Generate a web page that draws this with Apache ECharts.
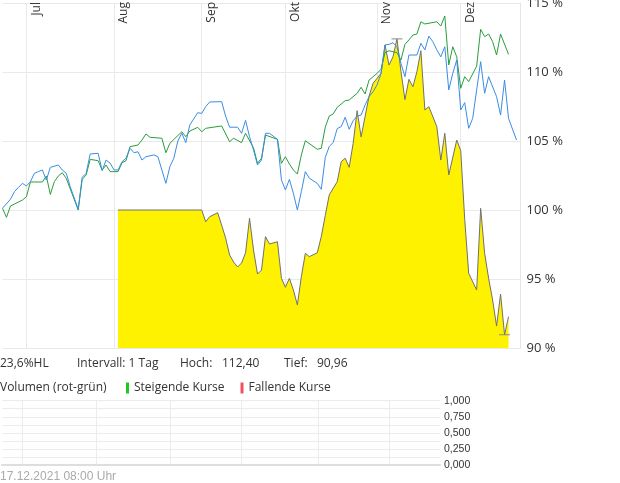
<!DOCTYPE html>
<html><head><meta charset="utf-8">
<script src="https://cdn.jsdelivr.net/npm/echarts@6/dist/echarts.min.js"></script>
<style>html,body{margin:0;padding:0;background:#fff}#c{width:620px;height:483px}</style>
</head><body><div id="c"></div>
<script>
// trading-day positions (index of each day on the x axis)
const dayCount = 131;
const monthIdx = [6, 28, 50, 71, 94, 115];
const monthNames = ['Jul', 'Aug', 'Sep', 'Okt', 'Nov', 'Dez'];
const priceTicks = [90, 95, 100, 105, 110, 115];
const volumeTicks = [0, 0.25, 0.5, 0.75, 1];

// [day index, percent]
const blueSeries = [[0,100.12],[2,100.78],[3,101.33],[4,101.64],[5,101.93],[6,101.74],[7,102.05],[8,102.66],[9,102.78],[10,102.9],[11,102.17],[12,103.09],[14,103.26],[15,102.9],[16,102.66],[17,101.69],[19,100.05],[20,102.37],[21,102.66],[22,104.06],[24,104.11],[25,102.85],[26,103.62],[27,103.4],[28,102.9],[29,102.9],[30,103.5],[31,103.75],[32,104.47],[33,104.15],[34,104.22],[35,103.62],[36,103.86],[38,103.99],[39,103.86],[41,101.93],[42,103.14],[43,103.75],[44,105.0],[45,105.56],[46,104.88],[47,106.16],[49,107.05],[50,107.0],[51,107.49],[52,107.83],[55,107.85],[56,106.8],[57,106.0],[59,106.0],[60,105.56],[61,106.5],[62,105.31],[63,104.35],[64,103.26],[65,103.62],[66,105.56],[67,105.56],[69,105.12],[70,102.17],[71,101.45],[72,102.22],[73,101.21],[74,100.0],[75,101.33],[76,102.78],[77,102.3],[79,101.93],[80,101.5],[81,103.8],[82,104.6],[83,104.9],[84,105.9],[85,106.04],[86,106.72],[87,105.85],[88,106.47],[89,106.81],[90,106.88],[91,107.61],[92,108.21],[93,108.57],[94,109.06],[95,109.9],[96,111.96],[97,112.0],[98,112.12],[99,111.83],[100,110.63],[101,109.66],[102,111.23],[104,111.23],[105,112.08],[106,111.6],[107,112.6],[108,112.2],[109,111.6],[110,111.1],[111,111.83],[112,108.7],[113,109.9],[114,110.87],[115,107.25],[116,107.78],[117,105.92],[118,106.64],[119,108.7],[120,110.75],[121,108.46],[122,109.66],[124,108.21],[125,106.88],[126,109.42],[127,106.64],[129,105.07]];

const greenSeries = [[0,100.12],[1,99.47],[2,100.29],[3,100.43],[5,100.72],[6,100.96],[7,102.03],[10,102.03],[11,102.46],[12,101.13],[13,102.05],[14,102.46],[15,102.7],[16,102.3],[19,100.0],[20,102.22],[21,102.54],[22,103.67],[24,103.57],[25,102.9],[26,103.26],[27,102.78],[29,102.78],[30,103.43],[31,103.57],[32,104.59],[34,104.71],[35,105.07],[36,105.51],[37,105.27],[40,105.2],[41,104.15],[42,104.83],[45,105.67],[46,105.31],[47,105.72],[49,105.99],[50,105.67],[51,105.92],[55,106.09],[57,104.95],[58,105.2],[60,104.88],[61,105.56],[63,104.5],[64,103.38],[65,103.75],[66,105.43],[69,105.12],[70,103.38],[71,103.86],[72,103.33],[73,102.9],[74,102.61],[75,103.99],[76,105.02],[79,104.4],[80,104.47],[81,106.0],[82,106.81],[83,106.96],[84,107.44],[86,107.92],[87,107.97],[89,108.46],[90,108.89],[91,108.41],[92,109.42],[93,109.66],[94,109.9],[95,110.2],[96,111.4],[97,111.54],[98,111.47],[99,111.4],[100,110.87],[101,112.0],[102,112.32],[103,112.68],[104,112.75],[105,113.64],[106,113.48],[109,113.64],[110,113.33],[111,114.06],[112,110.51],[113,111.83],[114,111.1],[115,108.82],[116,109.66],[117,109.3],[119,110.43],[120,113.09],[121,112.56],[122,112.75],[123,112.2],[124,111.23],[125,112.75],[127,111.28]];

const yellowSeries = [[29,100.0],[50,100.0],[51,99.15],[52,99.51],[54,99.8],[55,98.9],[56,97.96],[57,96.74],[58,96.23],[59,95.87],[60,96.16],[61,96.9],[62,99.4],[63,97.1],[64,95.36],[65,95.65],[66,98.07],[67,97.54],[69,97.7],[70,95.05],[71,94.4],[72,95.05],[73,94.2],[74,93.12],[75,95.17],[76,96.86],[77,96.62],[79,96.9],[80,98.07],[81,99.6],[82,101.09],[84,102.05],[85,103.5],[86,103.75],[87,103.09],[88,104.83],[89,107.2],[90,105.3],[92,108.26],[93,109.18],[95,109.9],[96,111.96],[97,110.5],[98,111.1],[99,112.40],[100,110.04],[101,108.0],[102,109.47],[103,108.93],[104,110.02],[105,111.54],[106,107.25],[107,107.49],[109,106.04],[110,103.62],[111,105.56],[112,102.54],[114,105.07],[115,104.3],[116,99.33],[117,95.41],[119,94.2],[120,100.12],[121,96.86],[122,95.05],[123,93.48],[124,91.59],[125,93.91],[126,90.96],[127,92.27]];

const risingVolume = [];
const fallingVolume = [];

const cats = Array.from({length: dayCount}, (_, i) => String(i));
const isMonth = (i) => monthIdx.indexOf(i) >= 0;
const yVals = yellowSeries.map(p => p[1]);
const fmt = v => v.toFixed(2).replace('.', ',');
const hoch = fmt(Math.max(...yVals));
const tief = fmt(Math.min(...yVals));

const OS = 'Open Sans';
const txt = (x, y, s, extra) => ({type: 'text', x, y, style: Object.assign({text: s, fill: '#333', font: '12px "Open Sans"', textVerticalAlign: 'middle'}, extra || {})});

const chart = echarts.init(document.getElementById('c'), null, {renderer: 'canvas'});
chart.setOption({
  animation: false,
  backgroundColor: '#fff',
  grid: [
    {left: 2.5, top: 3, width: 518, height: 345, outerBoundsMode: 'none', containLabel: false},
    {left: 2, top: 400.7, width: 438, height: 64.3, outerBoundsMode: 'none', containLabel: false}
  ],
  legend: {
    data: ['Steigende Kurse', 'Fallende Kurse'],
    left: 126, top: 382, padding: 0,
    icon: 'rect', itemWidth: 3, itemHeight: 11, itemGap: 16,
    textStyle: {fontFamily: OS, fontSize: 12, color: '#333'},
    selectedMode: false
  },
  xAxis: [
    {
      type: 'category', gridIndex: 0, data: cats, boundaryGap: false, position: 'top',
      axisLine: {show: false}, axisTick: {show: false},
      axisLabel: {
        interval: (i) => isMonth(i), inside: true, rotate: -90, margin: -1,
        align: 'right', verticalAlign: 'top', padding: [4, 0, 0, 0],
        formatter: (v) => monthNames[monthIdx.indexOf(Number(v))] || '',
        fontFamily: OS, fontSize: 12, color: '#333'
      },
      splitLine: {show: true, interval: (i) => isMonth(i), lineStyle: {color: '#e9e9e9', width: 1}}
    },
    {
      type: 'category', gridIndex: 1, data: cats, boundaryGap: false,
      axisLine: {show: true, lineStyle: {color: '#dedede', width: 2}}, axisTick: {show: false},
      axisLabel: {show: false},
      splitLine: {show: true, interval: (i) => isMonth(i), lineStyle: {color: '#ececec', width: 1}}
    }
  ],
  yAxis: [
    {
      type: 'value', gridIndex: 0, position: 'right', min: priceTicks[0], max: priceTicks[priceTicks.length - 1], interval: 5,
      axisLine: {show: true, lineStyle: {color: '#e6e6e6'}}, axisTick: {show: false},
      axisLabel: {formatter: v => priceTicks.indexOf(v) >= 0 ? v + ' %' : '', margin: 6, fontFamily: OS, fontSize: 13, color: '#333'},
      splitLine: {lineStyle: {color: '#e9e9e9'}}
    },
    {
      type: 'value', gridIndex: 1, position: 'right', min: 0, max: 1, interval: 0.125,
      axisLine: {show: false}, axisTick: {show: false},
      axisLabel: {
        formatter: v => volumeTicks.some(t => Math.abs(t - v) < 1e-6) ? v.toFixed(3).replace('.', ',') : '',
        margin: 4, fontFamily: 'Liberation Sans', fontSize: 10.5, color: '#333'
      },
      splitLine: {lineStyle: {color: '#ececec'}}
    }
  ],
  series: [
    {
      name: 'Kurs', type: 'line', xAxisIndex: 0, yAxisIndex: 0, data: yellowSeries,
      symbol: 'none', lineStyle: {color: '#707070', width: 1},
      areaStyle: {color: '#fff200', opacity: 1}, z: 1,
      markPoint: {
        symbol: 'rect', symbolSize: [11, 1], itemStyle: {color: '#8a8a8a'}, label: {show: false},
        data: [{type: 'max'}, {type: 'min'}]
      }
    },
    {name: 'Vergleich 1', type: 'line', xAxisIndex: 0, yAxisIndex: 0, data: greenSeries, symbol: 'none', lineStyle: {color: '#2a9d3c', width: 1}, z: 3},
    {name: 'Vergleich 2', type: 'line', xAxisIndex: 0, yAxisIndex: 0, data: blueSeries, symbol: 'none', lineStyle: {color: '#3a8de2', width: 1}, z: 4},
    {name: 'Steigende Kurse', type: 'bar', xAxisIndex: 1, yAxisIndex: 1, data: risingVolume, itemStyle: {color: '#1ec81e'}},
    {name: 'Fallende Kurse', type: 'bar', xAxisIndex: 1, yAxisIndex: 1, data: fallingVolume, itemStyle: {color: '#f2505e'}}
  ],
  graphic: [
    txt(0, 364, '23,6%HL'),
    txt(77, 364, 'Intervall: 1 Tag'),
    txt(180, 364, 'Hoch:'),
    txt(222, 364, hoch),
    txt(284, 364, 'Tief:'),
    txt(317, 364, tief),
    txt(0, 388, 'Volumen (rot-grün)'),
    txt(0, 477, '17.12.2021 08:00 Uhr', {fill: '#aaa', font: '12px "Liberation Sans"'})
  ]
});
</script></body></html>
